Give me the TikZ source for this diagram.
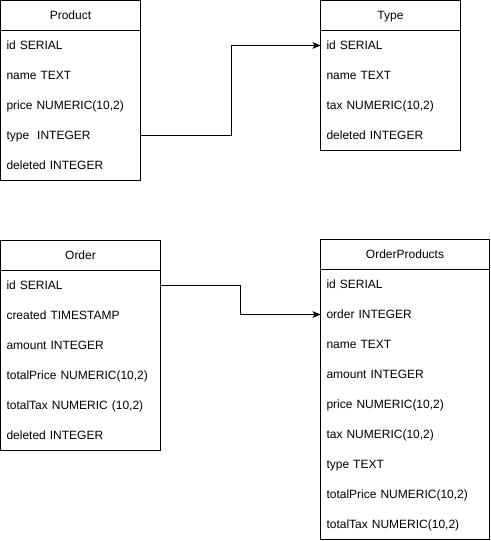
\documentclass[tikz,border=0pt]{standalone}
\usepackage{fontspec}
\setmainfont{Liberation Sans}
\usetikzlibrary{arrows.meta}
\begin{document}
\begin{tikzpicture}[x=0.75pt,y=-0.75pt,
  font=\fontsize{9}{10.8}\selectfont,
  every node/.style={outer sep=0pt},
  hdr/.style={draw, line width=0.75pt, minimum height=22.5pt, inner sep=0pt, text height=7.5pt, text depth=1pt, text width=#1, align=center, anchor=north west},
  row/.style={minimum height=22.5pt, inner xsep=4.5pt, inner ysep=0pt, text height=7.5pt, text depth=1pt, text width=#1, align=left, anchor=north west},
  box/.style={draw, line width=0.75pt},
  link/.style={draw, line width=0.75pt, -{Stealth[length=6pt,width=5pt,inset=1.5pt]}}]
\fill[white] (0,0) rectangle (491,541);
\useasboundingbox (0,0) rectangle (491,541);

% Product
\node[hdr=105pt] (ph) at (0.5,0.5) {Product};
\node[row=96pt] (p1) at (0.5,30.5) {id SERIAL};
\node[row=96pt] (p2) at (0.5,60.5) {name TEXT};
\node[row=96pt] (p3) at (0.5,90.5) {price NUMERIC(10,2)};
\node[row=96pt] (p4) at (0.5,120.5) {type\ \ INTEGER};
\node[row=96pt] (p5) at (0.5,150.5) {deleted INTEGER};
\draw[box] (p1.north west) rectangle (p5.south east);

% Type
\node[hdr=105pt] (th) at (320.5,0.5) {Type};
\node[row=96pt] (t1) at (320.5,30.5) {id SERIAL};
\node[row=96pt] (t2) at (320.5,60.5) {name TEXT};
\node[row=96pt] (t3) at (320.5,90.5) {tax NUMERIC(10,2)};
\node[row=96pt] (t4) at (320.5,120.5) {deleted INTEGER};
\draw[box] (t1.north west) rectangle (t4.south east);

% Order
\node[hdr=120pt] (oh) at (0.5,240.5) {Order};
\node[row=111pt] (o1) at (0.5,270.5) {id SERIAL};
\node[row=111pt] (o2) at (0.5,300.5) {created TIMESTAMP};
\node[row=111pt] (o3) at (0.5,330.5) {amount INTEGER};
\node[row=111pt] (o4) at (0.5,360.5) {totalPrice NUMERIC(10,2)};
\node[row=111pt] (o5) at (0.5,390.5) {totalTax NUMERIC (10,2)};
\node[row=111pt] (o6) at (0.5,420.5) {deleted INTEGER};
\draw[box] (o1.north west) rectangle (o6.south east);

% OrderProducts
\node[hdr=126.75pt] (qh) at (320.5,239.5) {OrderProducts};
\node[row=117.75pt] (q1) at (320.5,269.5) {id SERIAL};
\node[row=117.75pt] (q2) at (320.5,299.5) {order INTEGER};
\node[row=117.75pt] (q3) at (320.5,329.5) {name TEXT};
\node[row=117.75pt] (q4) at (320.5,359.5) {amount INTEGER};
\node[row=117.75pt] (q5) at (320.5,389.5) {price NUMERIC(10,2)};
\node[row=117.75pt] (q6) at (320.5,419.5) {tax NUMERIC(10,2)};
\node[row=117.75pt] (q7) at (320.5,449.5) {type TEXT};
\node[row=117.75pt] (q8) at (320.5,479.5) {totalPrice NUMERIC(10,2)};
\node[row=117.75pt] (q9) at (320.5,509.5) {totalTax NUMERIC(10,2)};
\draw[box] (q1.north west) rectangle (q9.south east);

% connectors
\draw[link] (p4.east) -- ++(90.5,0) |- (t1.west);
\draw[link] (o1.east) -- ++(80,0) |- (q2.west);
\end{tikzpicture}
\end{document}
